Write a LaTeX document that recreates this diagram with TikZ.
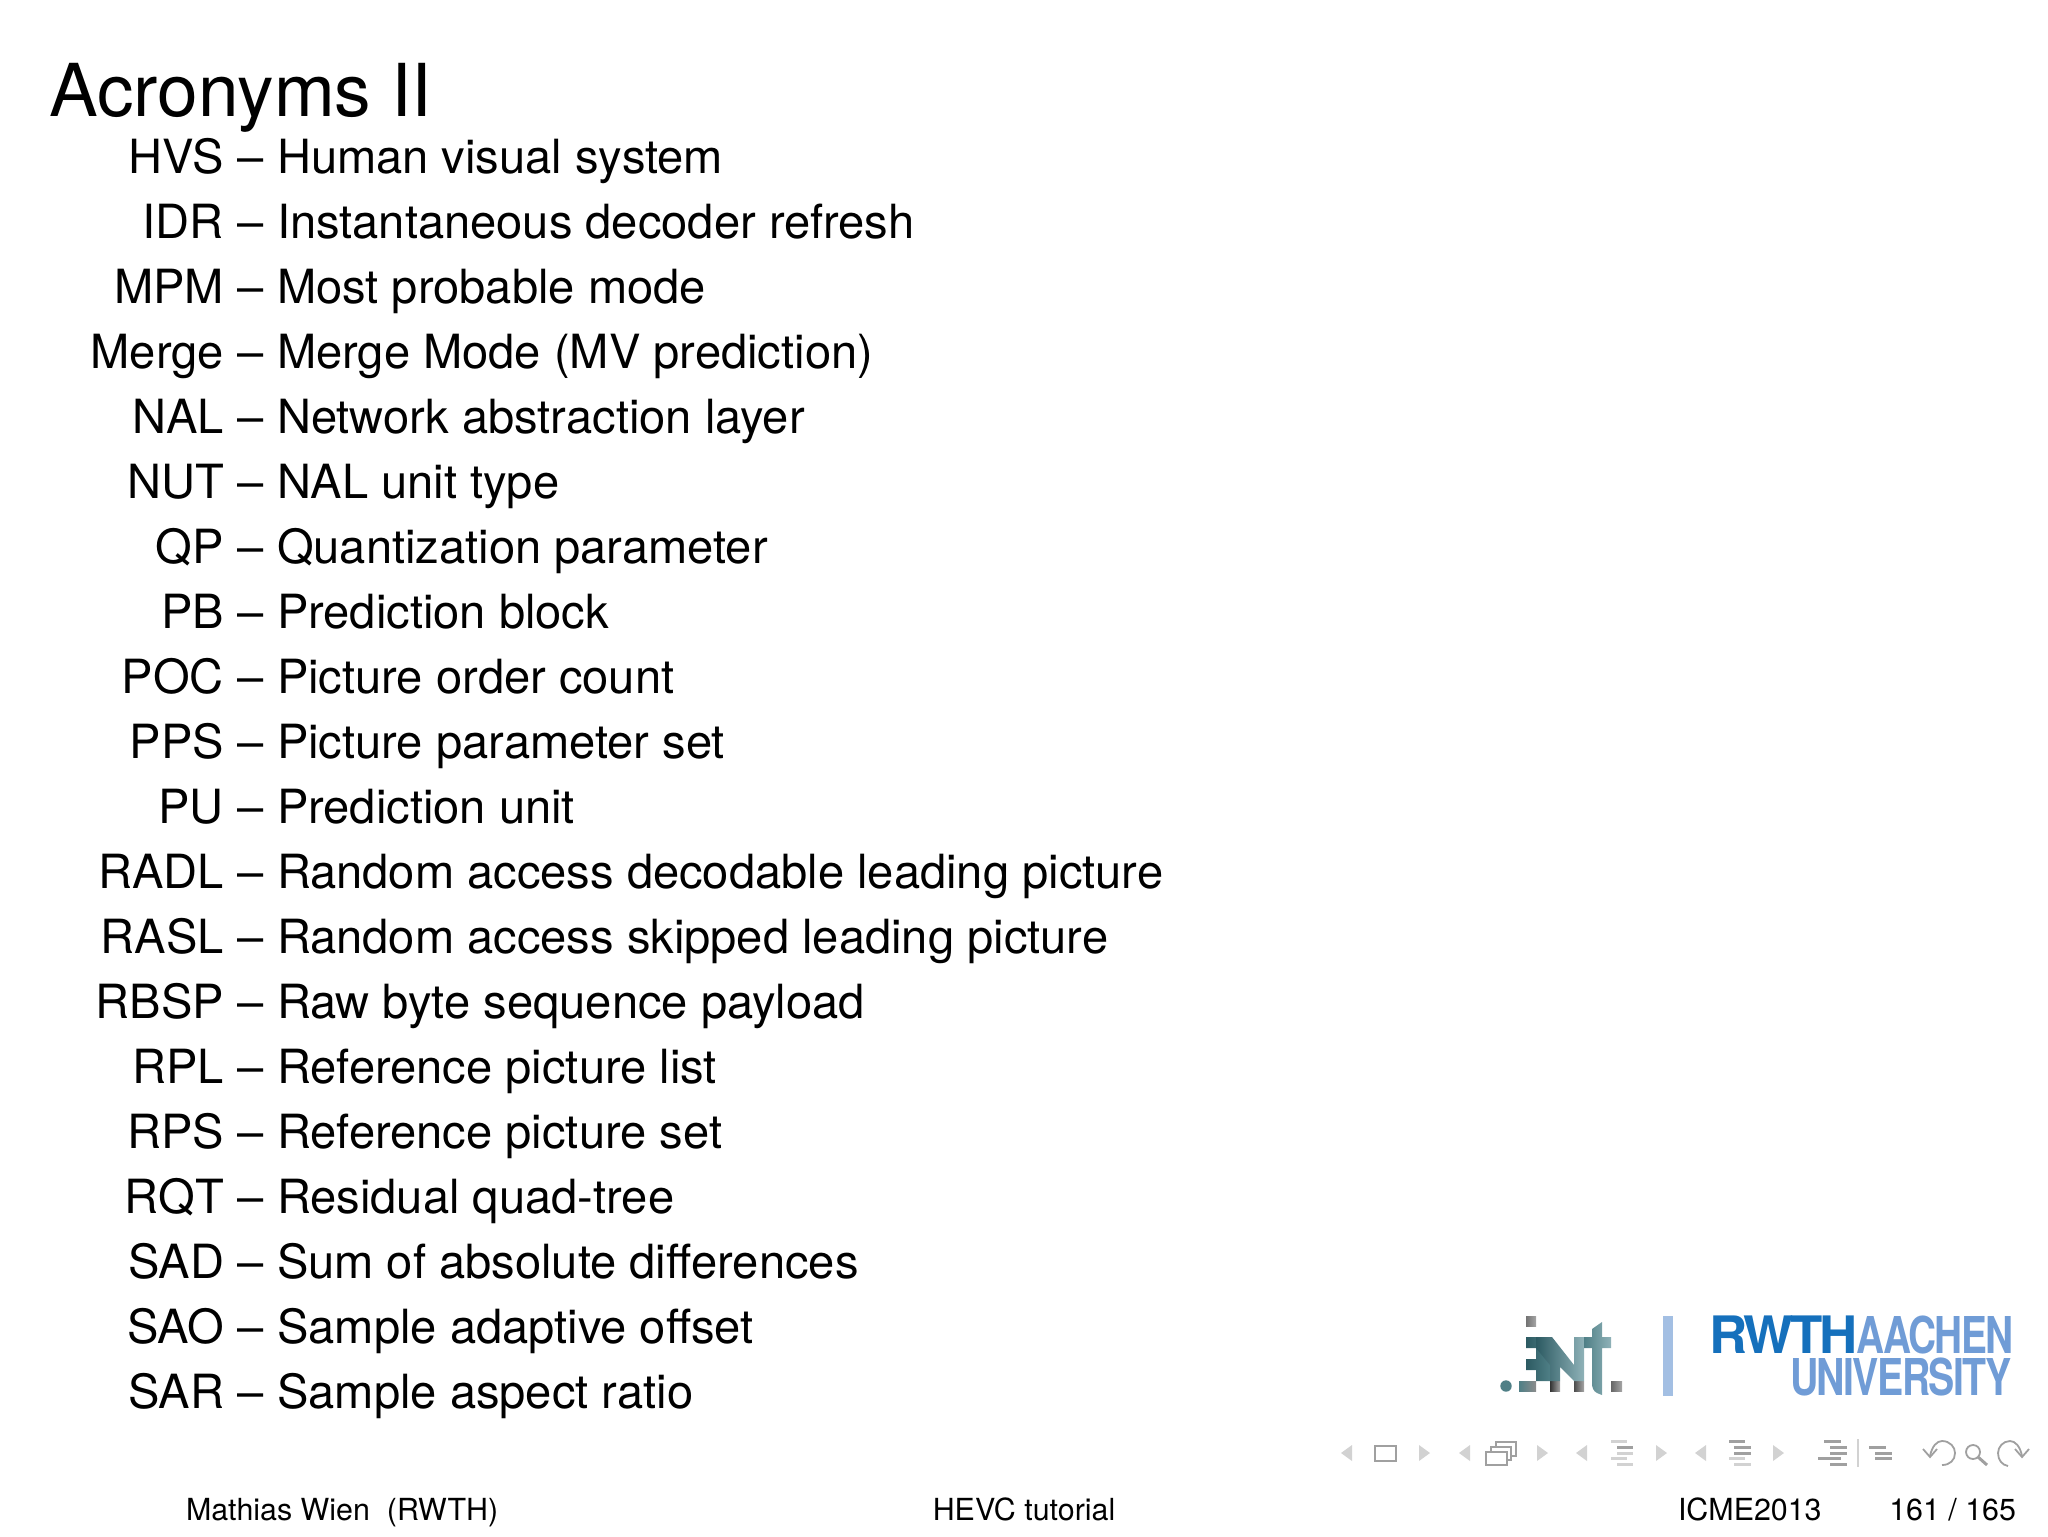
\documentclass[tikz,border=0pt]{standalone}
\usepackage{fontspec}
\setmainfont{TeX Gyre Heros}
\definecolor{rwthdark}{HTML}{1570BC}
\definecolor{rwthlight}{HTML}{709CD6}
\definecolor{rwthbar}{HTML}{A3BFE3}
\definecolor{navdark}{HTML}{A0A0A0}
\definecolor{navlight}{HTML}{D2D2D2}
\definecolor{tealdark}{HTML}{2C5A62}
\definecolor{tealmid}{HTML}{4F7F86}
\definecolor{teallight}{HTML}{8FB2B8}
\begin{document}
\begin{tikzpicture}[x=0.5pt,y=-0.5pt,
  txt/.style={inner sep=0pt,outer sep=0pt,font=\fontsize{23.55pt}{26pt}\selectfont},
  foot/.style={inner sep=0pt,outer sep=0pt,font=\fontsize{15.2pt}{18pt}\selectfont},
  logotxt/.style={inner sep=0pt,outer sep=0pt,anchor=south west},
  navtri/.style={fill=navlight},
  navline/.style={draw=navdark,line width=1pt,fill=white},
  navarc/.style={draw=navdark,line width=0.9pt},
  greysq/.style={left color=#1,right color=black!35}]
\useasboundingbox (0,0) rectangle (2048,1536);
\node[inner sep=0pt,anchor=base west,font=\fontsize{36.5pt}{40pt}\selectfont] (title) at (49,117) {Acronyms II};
\foreach \a/\d [count=\i from 0] in {HVS/Human visual system,IDR/Instantaneous decoder refresh,MPM/Most probable mode,Merge/Merge Mode (MV prediction),NAL/Network abstraction layer,NUT/NAL unit type,QP/Quantization parameter,PB/Prediction block,POC/Picture order count,PPS/Picture parameter set,PU/Prediction unit,RADL/Random access decodable leading picture,RASL/Random access skipped leading picture,RBSP/Raw byte sequence payload,RPL/Reference picture list,RPS/Reference picture set,RQT/Residual quad-tree,SAD/Sum of absolute differences,SAO/Sample adaptive offset,SAR/Sample aspect ratio}{
  \node[txt,anchor=base east] (a\i) at (224,173+65*\i) {\a};
  \node[txt,anchor=base] (m\i) at (251,173+65*\i) {--};
  \node[txt,anchor=base west] (d\i) at (277,173+65*\i) {\d};
}
\node[foot,anchor=base west] (f1) at (186,1520) {Mathias Wien\ \ (RWTH)};
\node[foot,anchor=base] (f2) at (1024,1520) {HEVC tutorial};
\node[foot,anchor=base west] (f3) at (1678,1520) {ICME2013};
\node[foot,anchor=base east] (f4) at (2016,1520) {161 / 165};
% RWTH logo
\fill[rwthbar] (1663,1316) rectangle (1673,1396);
\node[logotxt] (r1) at (1709.5,1354) {\textcolor{rwthdark}{\resizebox{74pt}{18.8pt}{\addfontfeatures{LetterSpace=-7}\bfseries RWTH}}\hspace{-0.5pt}\textcolor{rwthlight}{\resizebox{78.5pt}{18.8pt}{\addfontfeatures{LetterSpace=-4}\bfseries AACHEN}}};
\node[logotxt,text=rwthlight] (r3) at (1790,1396.5) {\resizebox{111pt}{18.8pt}{\addfontfeatures{LetterSpace=-4}\bfseries UNIVERSITY}};
% .int logo
\shade[greysq=black!55] (1526,1316) rectangle (1536,1326);
\fill[tealmid] (1506,1386) circle[radius=5.7];
\shade[left color=tealmid,right color=black!45] (1519,1381) rectangle (1536,1391);
\shade[greysq=black!80] (1550,1381) rectangle (1560,1391);
\shade[greysq=black!70] (1574,1381) rectangle (1584,1391);
\shade[greysq=black!60] (1611,1381) rectangle (1622,1391);
\shade[left color=tealdark,right color=tealmid]
  (1526,1337) -- (1550,1337) -- (1550,1381) -- (1536,1381) -- (1536,1370) -- (1526,1370) -- (1526,1359) -- (1536,1359) -- (1536,1348) -- (1526,1348) -- cycle;
\shade[left color=tealdark,right color=teallight]
  (1536,1337) -- (1552,1337) -- (1574,1365) -- (1574,1337) -- (1584,1337) -- (1584,1381) -- (1574,1381) -- (1560,1367) -- (1560,1381) -- (1550,1381) -- (1550,1365) -- (1536,1348) -- cycle;
\shade[left color=tealmid,right color=teallight]
  (1592,1329) -- (1602,1322) -- (1602,1337) -- (1611,1337) -- (1611,1348) -- (1602,1348) -- (1602,1395) -- (1597,1393)
  .. controls (1593,1391) and (1592,1387) .. (1592,1383) -- (1592,1348) -- (1584,1348) -- (1584,1337) -- (1592,1337) -- cycle;
% navigation symbols
\foreach \tx in {1352,1470,1587,1706}{ \fill[navtri] (\tx,1445) -- (\tx-11,1453) -- (\tx,1461) -- cycle; }
\foreach \tx in {1419,1537,1656,1773}{ \fill[navtri] (\tx,1445) -- (\tx+11,1453) -- (\tx,1461) -- cycle; }
\draw[navline] (1375,1446) rectangle (1396,1461);
\draw[navline] (1496,1442) rectangle (1516,1456);
\draw[navline] (1491,1447) rectangle (1511,1460);
\draw[navline] (1486,1452) rectangle (1507,1465);
\fill[navlight] (1611,1440) rectangle (1627,1443);
\fill[navdark]  (1617,1446) rectangle (1633,1449);
\fill[navlight] (1617,1452) rectangle (1633,1454.5);
\fill[navlight] (1611,1457) rectangle (1627,1460);
\fill[navlight] (1617,1463) rectangle (1633,1466);
\fill[navdark]  (1729,1440) rectangle (1745,1443);
\fill[navdark]  (1734,1446) rectangle (1751,1449);
\fill[navdark]  (1734,1452) rectangle (1751,1454.5);
\fill[navlight] (1729,1457) rectangle (1745,1460);
\fill[navlight] (1734,1463) rectangle (1751,1466);
\fill[navdark]  (1824,1440) rectangle (1841,1443);
\fill[navdark]  (1830,1446) rectangle (1847,1449);
\fill[navdark]  (1830,1452) rectangle (1847,1454.5);
\fill[navdark]  (1818,1457) rectangle (1841,1460);
\fill[navdark]  (1830,1463) rectangle (1847,1466);
\draw[navlight,line width=0.7pt] (1858,1439) -- (1858,1467);
\fill[navdark]  (1869,1446) rectangle (1886,1449);
\fill[navdark]  (1875,1452) rectangle (1892,1454.5);
\fill[navdark]  (1875,1457) rectangle (1892,1460);
\draw[navarc] (1923,1449) -- (1930,1457) -- (1937,1449);
\draw[navarc] (1930,1456) .. controls (1932,1446) and (1937,1441) .. (1942,1441) .. controls (1950,1441) and (1955,1447) .. (1955,1453) .. controls (1955,1460) and (1950,1465) .. (1942,1465);
\draw[navarc] (1973,1452) circle[radius=7];
\draw[navarc,line width=1.5pt] (1978,1457) -- (1987,1465);
\draw[navarc] (2015,1449) -- (2022,1457) -- (2029,1449);
\draw[navarc] (2022,1456) .. controls (2020,1446) and (2015,1441) .. (2010,1441) .. controls (2003,1441) and (1998,1447) .. (1998,1453) .. controls (1998,1460) and (2002,1465) .. (2008,1466);
\end{tikzpicture}
\end{document}
